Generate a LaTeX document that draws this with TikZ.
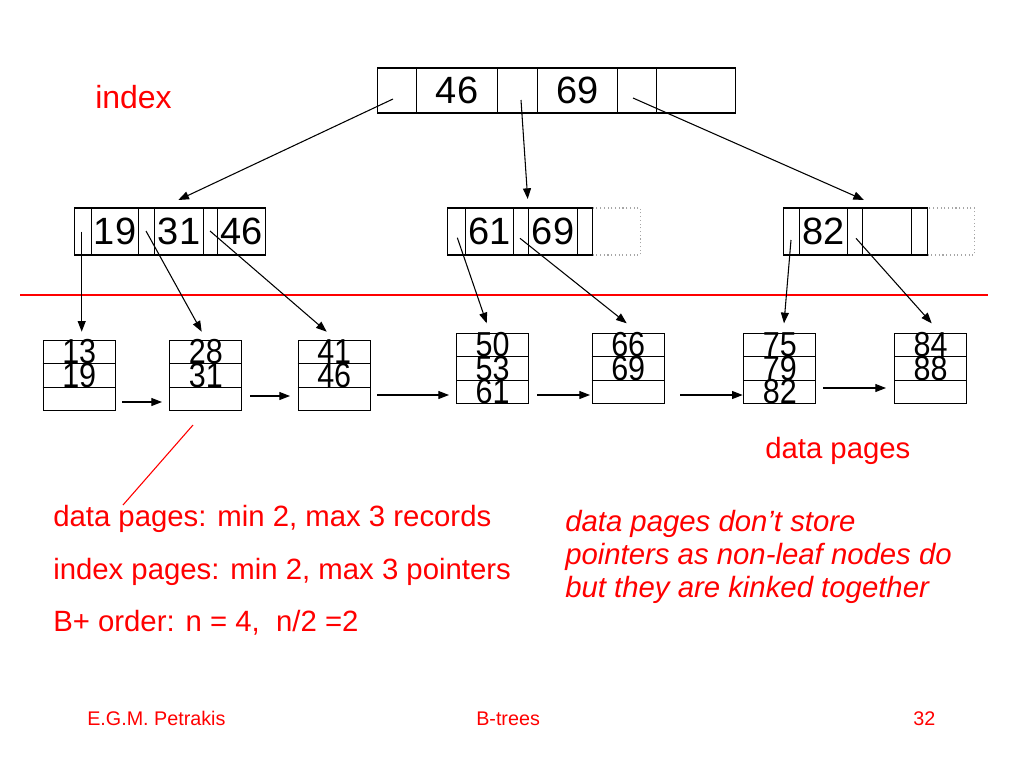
\documentclass[tikz,border=0pt]{standalone}
\usepackage{fontspec}
\usepackage{graphicx}
\setmainfont{Liberation Sans}
\usetikzlibrary{arrows.meta,calc}
\newcommand\pxu{0.75pt}
\newcommand\idxdigits[1]{#1}
\newcommand\leafdigits[1]{\scalebox{0.88}[1]{#1}}
\definecolor{slidered}{RGB}{255,0,0}
\begin{document}
\begin{tikzpicture}[x=0.75pt,y=-0.75pt,
  cell/.style={draw=black, line width=0.8pt, anchor=west, inner sep=0pt},
  rootcell/.style={cell, minimum height=45*\pxu},
  idxcell/.style={cell, minimum height=47*\pxu},
  dotcell/.style={draw=gray!70, dotted, line width=0.8pt, anchor=west, inner sep=0pt, minimum height=47*\pxu},
  idxnum/.style={font=\fontsize{28.5}{28.5}\selectfont},
  page/.style={draw=black, line width=0.8pt, anchor=north west, inner sep=0pt,
               minimum width=72*\pxu, minimum height=70*\pxu},
  leafnum/.style={font=\fontsize{26}{26}\selectfont, inner sep=0pt},
  ptr/.style={draw=black, line width=0.8pt, -{Triangle[length=8pt,width=6pt]}},
  redtext/.style={text=slidered, anchor=base west, inner sep=0pt, font=\fontsize{22}{26}\selectfont},
  redital/.style={redtext, font=\fontsize{22}{26}\selectfont\itshape},
  foot/.style={text=slidered, anchor=base west, inner sep=0pt, font=\fontsize{14.8}{16}\selectfont},
  redline/.style={draw=slidered, line width=0.8pt}
]
\useasboundingbox (0,0) rectangle (1024,768);

% ---------- root index node ----------
\node[rootcell, minimum width=39*\pxu] (r1) at (377,90.5) {};
\node[rootcell, minimum width=81*\pxu, idxnum] (r2) at (416,90.5) {\idxdigits{46}};
\node[rootcell, minimum width=40*\pxu] (r3) at (497,90.5) {};
\node[rootcell, minimum width=80*\pxu, idxnum] (r4) at (537,90.5) {\idxdigits{69}};
\node[rootcell, minimum width=39*\pxu] (r5) at (617,90.5) {};
\node[rootcell, minimum width=79*\pxu] (r6) at (656,90.5) {};

% ---------- level 2, left ----------
\node[idxcell, minimum width=17*\pxu] (a1) at (74,231.5) {};
\node[idxcell, minimum width=47*\pxu, idxnum] (a2) at (91,231.5) {\idxdigits{19}};
\node[idxcell, minimum width=16*\pxu] (a3) at (138,231.5) {};
\node[idxcell, minimum width=49*\pxu, idxnum] (a4) at (154,231.5) {\idxdigits{31}};
\node[idxcell, minimum width=14*\pxu] (a5) at (203,231.5) {};
\node[idxcell, minimum width=48*\pxu, idxnum] (a6) at (217,231.5) {\idxdigits{46}};

% ---------- level 2, middle ----------
\node[dotcell, minimum width=48*\pxu] (b6) at (592,231.5) {};
\node[idxcell, minimum width=18*\pxu] (b1) at (447,231.5) {};
\node[idxcell, minimum width=48*\pxu, idxnum] (b2) at (465,231.5) {\idxdigits{61}};
\node[idxcell, minimum width=15*\pxu] (b3) at (513,231.5) {};
\node[idxcell, minimum width=49*\pxu, idxnum] (b4) at (528,231.5) {\idxdigits{69}};
\node[idxcell, minimum width=15*\pxu] (b5) at (577,231.5) {};

% ---------- level 2, right ----------
\node[dotcell, minimum width=47*\pxu] (c6) at (927,231.5) {};
\node[idxcell, minimum width=16*\pxu] (c1) at (783,231.5) {};
\node[idxcell, minimum width=48*\pxu, idxnum] (c2) at (799,231.5) {\idxdigits{82}};
\node[idxcell, minimum width=15*\pxu] (c3) at (847,231.5) {};
\node[idxcell, minimum width=49*\pxu] (c4) at (862,231.5) {};
\node[idxcell, minimum width=16*\pxu] (c5) at (911,231.5) {};

% ---------- red separator ----------
\coordinate (sepL) at (20,295);
\coordinate (sepR) at (988,295);
\draw[redline] (sepL) -- (sepR);

% ---------- data pages ----------
\foreach \n/\x/\y/\ta/\tb/\tc in {p1/42.7/340/13/19/, p2/169.3/340/28/31/, p3/297.7/340/41/46/,
                                 p4/456/332.7/50/53/61, p5/591.7/332.7/66/69/,
                                 p6/743.3/332.7/75/79/82, p7/894/332.7/84/88/}{
  \node[page] (\n) at (\x,\y) {};
  \draw[line width=0.8pt] ($(\n.north west)!1/3!(\n.south west)$) -- ($(\n.north east)!1/3!(\n.south east)$);
  \draw[line width=0.8pt] ($(\n.north west)!2/3!(\n.south west)$) -- ($(\n.north east)!2/3!(\n.south east)$);
  \node[leafnum] (\n a) at ($(\n.north)!1/6!(\n.south)$) {\leafdigits{\ta}};
  \node[leafnum] (\n b) at ($(\n.north)!1/2!(\n.south)$) {\leafdigits{\tb}};
  \node[leafnum] (\n c) at ($(\n.north)!5/6!(\n.south)$) {\leafdigits{\tc}};
}

% ---------- pointers from root ----------
\coordinate (sr1) at (393,99);   \coordinate (er1) at (178.3,200);
\coordinate (sr3) at (521,100);  \coordinate (er3) at (527.7,199);
\coordinate (sr5) at (633,98);   \coordinate (er5) at (864,200);
\draw[ptr] (sr1) -- (er1);
\draw[ptr] (sr3) -- (er3);
\draw[ptr] (sr5) -- (er5);

% ---------- pointers from level 2 ----------
\coordinate (sa1) at (81.7,231.7);  \coordinate (ea1) at (81.7,331.7);
\coordinate (sa3) at (146,231);     \coordinate (ea3) at (201.7,331.7);
\coordinate (sa5) at (210,231);     \coordinate (ea5) at (326.7,331.7);
\coordinate (sb1) at (457.3,237.7); \coordinate (eb1) at (486.7,323.3);
\coordinate (sb3) at (520,238.3);   \coordinate (eb3) at (626.7,323.3);
\coordinate (sc1) at (791,240);     \coordinate (ec1) at (784,323.3);
\coordinate (sc3) at (856,238.3);   \coordinate (ec3) at (931.7,323.3);
\draw[ptr] (sa1) -- (ea1);
\draw[ptr] (sa3) -- (ea3);
\draw[ptr] (sa5) -- (ea5);
\draw[ptr] (sb1) -- (eb1);
\draw[ptr] (sb3) -- (eb3);
\draw[ptr] (sc1) -- (ec1);
\draw[ptr] (sc3) -- (ec3);

% ---------- links between data pages ----------
\coordinate (l1s) at (122,402);  \coordinate (l1e) at (162,402);
\coordinate (l2s) at (250,396);  \coordinate (l2e) at (290,396);
\coordinate (l3s) at (377,395);  \coordinate (l3e) at (449,395);
\coordinate (l4s) at (537,395);  \coordinate (l4e) at (590,395);
\coordinate (l5s) at (680,395);  \coordinate (l5e) at (742.7,395);
\coordinate (l6s) at (823,388);  \coordinate (l6e) at (886,388);
\draw[ptr] (l1s) -- (l1e);
\draw[ptr] (l2s) -- (l2e);
\draw[ptr] (l3s) -- (l3e);
\draw[ptr] (l4s) -- (l4e);
\draw[ptr] (l5s) -- (l5e);
\draw[ptr] (l6s) -- (l6e);

% ---------- labels ----------
\node[redtext, font=\fontsize{24}{28}\selectfont] (lblindex) at (95,108) {index};
\node[redtext] (lbldata) at (765,458) {data pages};
\coordinate (rl1) at (123,505);
\coordinate (rl2) at (193,425);
\draw[redline] (rl1) -- (rl2);

\node[redtext] (n1) at (53,526) {data pages: min 2, max 3 records};
\node[redtext] (n2) at (53,579) {index pages: min 2, max 3 pointers};
\node[redtext] (n3) at (53,631.5) {B+ order: n = 4,\ \ n/2 =2};

\node[redital] (m1) at (565,531) {data pages don’t store};
\node[redital] (m2) at (565,564) {pointers as non-leaf nodes do};
\node[redital] (m3) at (565,597) {but they are kinked together};

% ---------- footer ----------
\node[foot] (f1) at (87,725) {E.G.M. Petrakis};
\node[foot] (f2) at (476,725) {B-trees};
\node[foot] (f3) at (913,725) {32};
\end{tikzpicture}
\end{document}
